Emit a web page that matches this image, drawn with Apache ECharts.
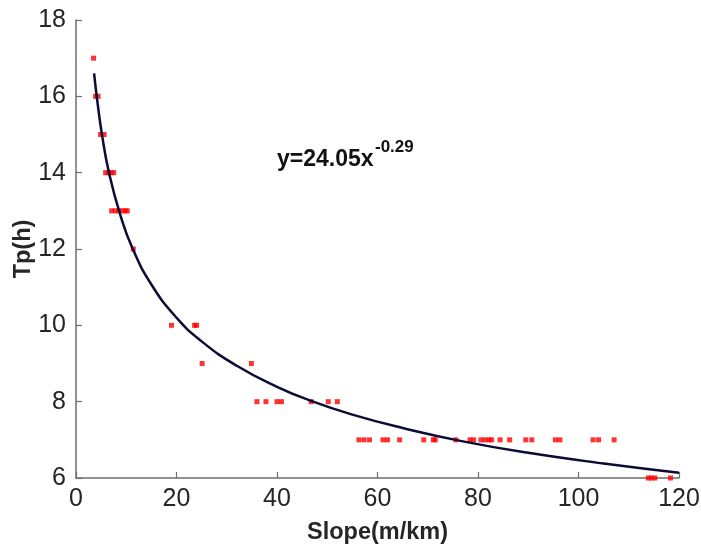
<!DOCTYPE html>
<html>
<head>
<meta charset="utf-8">
<script src="https://cdn.jsdelivr.net/npm/echarts@6/dist/echarts.min.js"></script>
<style>html,body{margin:0;padding:0;background:#fff}#c{width:701px;height:550px}</style>
</head>
<body>
<div id="c"></div>
<script>
// Observed points: slope (m/km) and peak time Tp (h)
var slopeValues = [3.5, 3.9, 4.4, 4.9, 5.6, 5.9, 6.5, 7.0, 7.5, 7.1, 7.8, 8.5, 9.2, 9.8, 10.2, 11.4,
  19.0, 23.6, 24.0, 25.1, 34.9, 36.0, 37.8, 40.0, 40.9, 46.8, 50.2, 52.0,
  56.3, 57.3, 58.4, 61.1, 62.0, 64.4, 69.2, 71.1, 71.5, 75.6, 78.4, 79.1, 80.6, 81.4, 82.2, 82.7,
  84.4, 86.3, 89.5, 90.7, 95.4, 96.3, 102.9, 104.0, 107.1,
  113.9, 114.5, 115.2, 118.3];
var tpValues = [17, 16, 16, 15, 15, 14, 14, 14, 14, 13, 13, 13, 13, 13, 13, 12,
  10, 10, 10, 9, 9, 8, 8, 8, 8, 8, 8, 8,
  7, 7, 7, 7, 7, 7, 7, 7, 7, 7, 7, 7, 7, 7, 7, 7,
  7, 7, 7, 7, 7, 7, 7, 7, 7,
  6, 6, 6, 6];
// Fitted curve
var curveX = [3.6, 4.2, 5.2, 6.6, 8.8, 11.3, 15, 20, 25, 32, 40, 47, 55, 65, 77, 90, 105, 120];
var curveY = [16.6, 15.92, 14.97, 13.98, 12.9, 12.0, 11.07, 10.2, 9.58, 8.94, 8.39, 8.01, 7.66, 7.31, 6.96, 6.66, 6.38, 6.14];
var xTicks = {min: 0, max: 120, interval: 20};
var yTicks = {min: 6, max: 18, interval: 2};
var equationMain = 'y=24.05x';
var equationExp = '-0.29';
var xName = 'Slope(m/km)';
var yName = 'Tp(h)';

var font = '"Liberation Sans", Arial, sans-serif';
var axisColor = '#6e6e6e';
var textColor = '#262626';

var scatterData = slopeValues.map(function (x, i) { return [x, tpValues[i]]; });
var curveData = curveX.map(function (x, i) { return [x, curveY[i]]; });

var chart = echarts.init(document.getElementById('c'), null, {renderer: 'canvas'});
chart.setOption({
  backgroundColor: '#ffffff',
  animation: false,
  grid: {left: 76, right: 22, top: 20, bottom: 72, containLabel: false, outerBoundsMode: 'none'},
  xAxis: {
    type: 'value', min: xTicks.min, max: xTicks.max, interval: xTicks.interval,
    name: xName, nameLocation: 'middle', nameGap: 43, nameMoveOverlap: false,
    nameTextStyle: {fontFamily: font, fontWeight: 'bold', fontSize: 23.5, color: textColor},
    axisLine: {show: true, lineStyle: {color: axisColor, width: 1.5}},
    axisTick: {show: true, inside: true, length: 6, lineStyle: {color: axisColor, width: 1.2}},
    axisLabel: {fontFamily: font, fontSize: 25, color: textColor, margin: 9},
    splitLine: {show: false}
  },
  yAxis: {
    type: 'value', min: yTicks.min, max: yTicks.max, interval: yTicks.interval,
    name: yName, nameLocation: 'middle', nameGap: 40, nameRotate: 90, nameMoveOverlap: false,
    nameTextStyle: {fontFamily: font, fontWeight: 'bold', fontSize: 23.5, color: textColor},
    axisLine: {show: true, lineStyle: {color: axisColor, width: 1.5}},
    axisTick: {show: true, inside: true, length: 6, lineStyle: {color: axisColor, width: 1.2}},
    axisLabel: {fontFamily: font, fontSize: 25, color: textColor, margin: 10},
    splitLine: {show: false}
  },
  graphic: [
    {type: 'text', left: 277, top: 148, style: {text: equationMain, fontFamily: font, fontWeight: 'bold', fontSize: 23, fill: '#111'}},
    {type: 'text', left: 375, top: 139, style: {text: equationExp, fontFamily: font, fontWeight: 'bold', fontSize: 17, fill: '#111'}}
  ],
  series: [
    {
      type: 'scatter', data: scatterData, symbol: 'rect', symbolSize: 5,
      itemStyle: {color: '#ff0000'}, clip: false, z: 2
    },
    {
      type: 'line', data: curveData, smooth: true, showSymbol: false,
      lineStyle: {color: '#0b0b35', width: 2.5}, clip: false, z: 3
    }
  ]
});
</script>
</body>
</html>
